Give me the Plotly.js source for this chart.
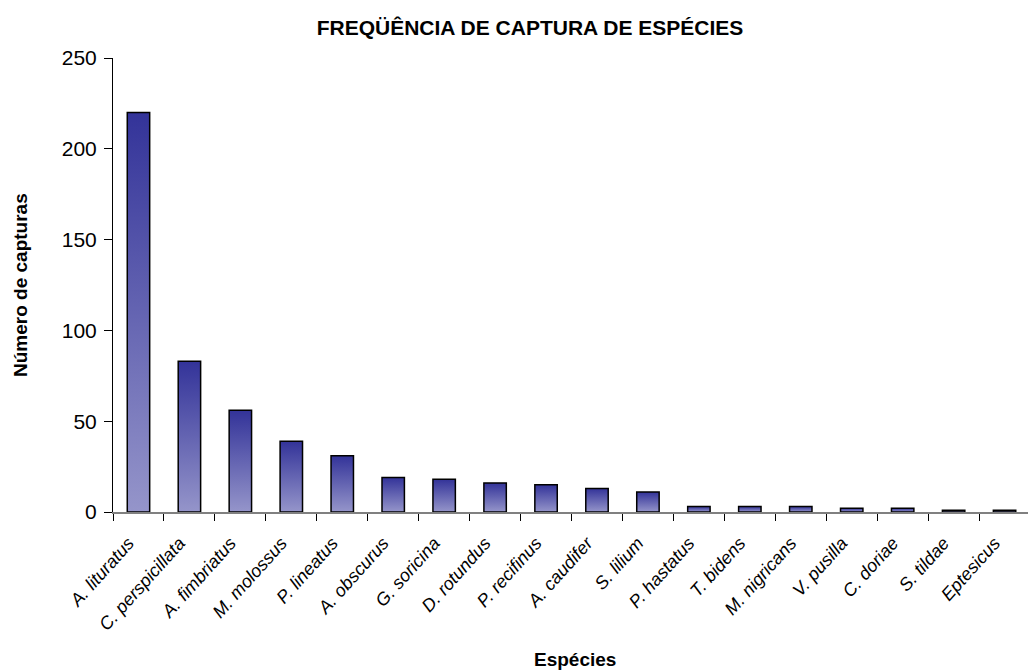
<!DOCTYPE html>
<html>
<head>
<meta charset="utf-8">
<script src="https://cdn.plot.ly/plotly-3.0.1.min.js"></script>
<style>html,body{margin:0;padding:0;background:#fff;}#chart{width:1028px;height:671px;}</style>
</head>
<body>
<div id="chart"></div>
<script>
const species = ["A. lituratus","C. perspicillata","A. fimbriatus","M. molossus","P. lineatus","A. obscurus","G. soricina","D. rotundus","P. recifinus","A. caudifer","S. lilium","P. hastatus","T. bidens","M. nigricans","V. pusilla","C. doriae","S. tildae","Eptesicus"];
const captures = [220, 83, 56, 39, 31, 19, 18, 16, 15, 13, 11, 3, 3, 3, 2, 2, 1, 1];
const yTicks = [0, 50, 100, 150, 200, 250];

const FONT = "Liberation Sans, Arial, sans-serif";

const trace = {
  type: "bar",
  x: species,
  y: captures,
  marker: {color: "#6666b3", line: {color: "#000000", width: 1.5}},
  hoverinfo: "x+y"
};

const layout = {
  width: 1028, height: 671,
  margin: {l: 113, r: 0, t: 58, b: 159, pad: 0},
  paper_bgcolor: "#ffffff", plot_bgcolor: "#ffffff",
  bargap: 0.56,
  showlegend: false,
  font: {family: FONT, color: "#000"},
  title: {text: "<b>FREQÜÊNCIA DE CAPTURA DE ESPÉCIES</b>", font: {family: FONT, size: 21, color: "#000"},
          xref: "container", x: 530/1028, xanchor: "center", yref: "container", y: 1 - 28/671, yanchor: "middle"},
  xaxis: {
    type: "category", range: [-0.5, 17.46],
    tickson: "boundaries", ticks: "outside", ticklen: 7, tickcolor: "#000", tickwidth: 1,
    ticklabelstandoff: 12, ticklabelshift: -10,
    showline: true, linecolor: "#808080", linewidth: 1.5,
    showgrid: false, zeroline: false, automargin: false,
    tickangle: -48,
    tickfont: {family: FONT, size: 18, style: "italic", color: "#000"}
  },
  yaxis: {
    range: [0, 250], tickvals: yTicks, ticktext: yTicks.map(String),
    ticks: "outside", ticklen: 8, tickcolor: "#000", tickwidth: 1,
    ticklabelstandoff: 3,
    showline: true, linecolor: "#000", linewidth: 1,
    showgrid: false, zeroline: false, automargin: false,
    tickfont: {family: FONT, size: 21, color: "#000"}
  },
  annotations: [
    {text: "<b>Número de capturas</b>", xref: "paper", yref: "paper", x: (20 - 113) / 915, y: 0.5,
     xanchor: "center", yanchor: "middle", textangle: -90, showarrow: false,
     font: {family: FONT, size: 19, color: "#000"}},
    {text: "<b>Espécies</b>", xref: "paper", yref: "paper", x: (575 - 113) / 915, y: (512 - 659) / 454,
     xanchor: "center", yanchor: "middle", showarrow: false,
     font: {family: FONT, size: 19, color: "#000"}}
  ]
};

Plotly.newPlot("chart", [trace], layout, {displayModeBar: false, staticPlot: true}).then(function(gd){
  const svg = gd.querySelector("svg.main-svg");
  const ns = "http://www.w3.org/2000/svg";
  let defs = svg.querySelector("defs");
  if (!defs) { defs = document.createElementNS(ns, "defs"); svg.insertBefore(defs, svg.firstChild); }
  const grad = document.createElementNS(ns, "linearGradient");
  grad.setAttribute("id", "barGrad");
  grad.setAttribute("x1", "0"); grad.setAttribute("y1", "0");
  grad.setAttribute("x2", "0"); grad.setAttribute("y2", "1");
  [["0%", "#333399"], ["100%", "#9595ca"]].forEach(function(s){
    const st = document.createElementNS(ns, "stop");
    st.setAttribute("offset", s[0]); st.setAttribute("stop-color", s[1]);
    grad.appendChild(st);
  });
  defs.appendChild(grad);
  gd.querySelectorAll(".barlayer .point path").forEach(function(p){
    p.style.fill = "url(#barGrad)";
  });
});
</script>
</body>
</html>
